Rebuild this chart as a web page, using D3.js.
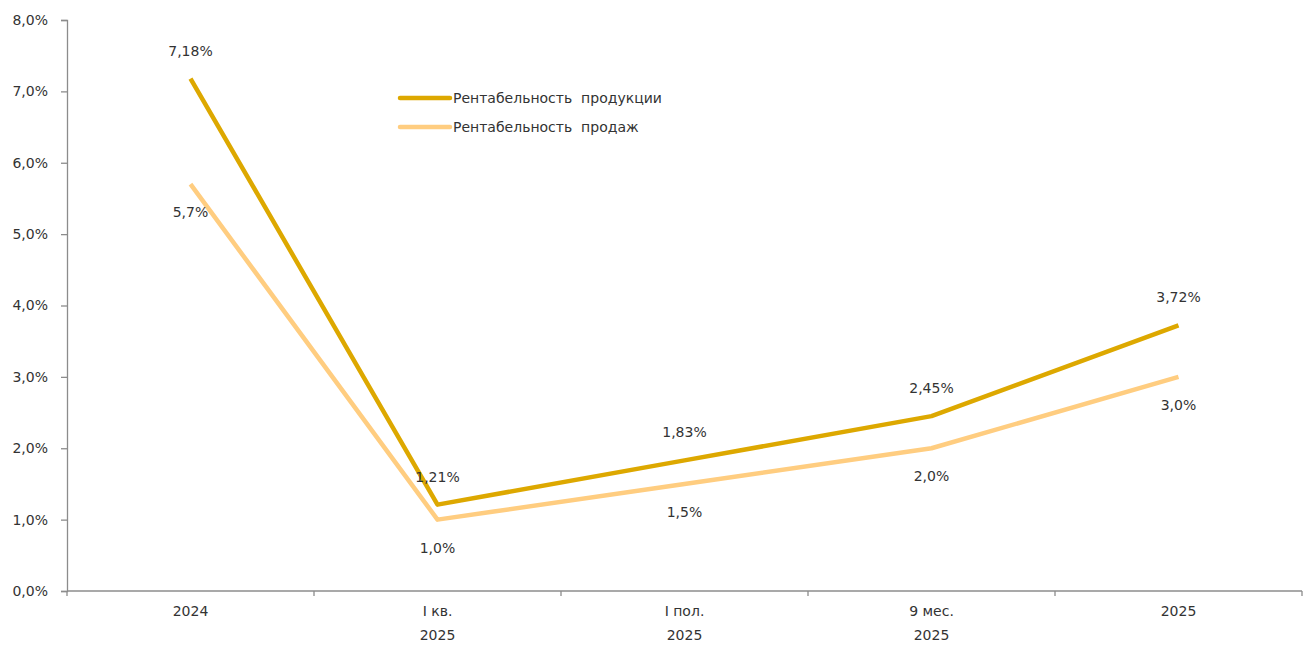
<!DOCTYPE html>
<html><head><meta charset="utf-8">
<script src="https://cdn.jsdelivr.net/npm/d3@7/dist/d3.min.js"></script>
<style>body{margin:0;background:#fff;} text{font-family:"DejaVu Sans",Tahoma,sans-serif;fill:#333;white-space:pre;}</style>
</head><body>
<svg id="c" width="1305" height="646"></svg>
<script>
const categories = [["2024"], ["I кв.", "2025"], ["I пол.", "2025"], ["9 мес.", "2025"], ["2025"]];
const seriesNames = ["Рентабельность  продукции", "Рентабельность  продаж"];
const productValues = [7.18, 1.21, 1.83, 2.45, 3.72];
const salesValues = [5.7, 1.0, 1.5, 2.0, 3.0];
const productLabels = ["7,18%", "1,21%", "1,83%", "2,45%", "3,72%"];
const salesLabels = ["5,7%", "1,0%", "1,5%", "2,0%", "3,0%"];
const yTicks = [0, 1, 2, 3, 4, 5, 6, 7, 8];
const colors = ["#DDA800", "#FFCD80"];

(function() {
const svg = d3.select("#c");
const mLeft = 67, mRight = 1302, mTop = 20, mBottom = 591;
const FS = 14;
const x = d3.scaleBand().domain(d3.range(categories.length)).range([mLeft, mRight]);
const y = d3.scaleLinear().domain([0, 8]).range([mBottom, mTop]);
const fmt = v => v.toFixed(1).replace(".", ",") + "%";

// Y axis
const ya = svg.append("g").attr("transform", `translate(${mLeft},0)`)
  .call(d3.axisLeft(y).tickValues(yTicks).tickFormat(fmt).tickSize(6).tickSizeOuter(6).tickPadding(13));
ya.selectAll("path,line").attr("stroke", "#8c8c8c").attr("stroke-width", 1.3);
ya.selectAll("text").attr("font-size", FS).attr("fill", "#333").style("font-family", "DejaVu Sans");

// X axis
const xa = svg.append("g").attr("transform", `translate(0,${mBottom})`);
xa.append("line").attr("x1", mLeft).attr("x2", mRight).attr("stroke", "#8c8c8c").attr("stroke-width", 1.3);
const bounds = d3.range(categories.length + 1).map(i => i < categories.length ? x(i) : x(i - 1) + x.bandwidth());
xa.selectAll("line.tk").data(bounds).join("line").attr("class", "tk")
  .attr("x1", d => d).attr("x2", d => d).attr("y1", 0).attr("y2", 5)
  .attr("stroke", "#8c8c8c").attr("stroke-width", 1.3);
const xl = xa.selectAll("text.cat").data(categories).join("text").attr("class", "cat")
  .attr("text-anchor", "middle").attr("font-size", FS)
  .attr("x", (d, i) => x(i) + x.bandwidth() / 2);
xl.selectAll("tspan").data(d => d).join("tspan")
  .attr("x", function() { return this.parentNode.getAttribute("x"); })
  .attr("y", (d, i) => 25 + i * 24).text(d => d);

// Lines
const cx = i => x(i) + x.bandwidth() / 2;
const line = d3.line().x((d, i) => cx(i)).y(d => y(d));
svg.append("path").datum(salesValues).attr("d", line).attr("fill", "none")
  .attr("stroke", colors[1]).attr("stroke-width", 4.5).attr("stroke-linejoin", "round");
svg.append("path").datum(productValues).attr("d", line).attr("fill", "none")
  .attr("stroke", colors[0]).attr("stroke-width", 4.5).attr("stroke-linejoin", "round");

// Labels
svg.selectAll("text.pl").data(productValues).join("text").attr("class", "pl")
  .attr("text-anchor", "middle").attr("font-size", FS)
  .attr("x", (d, i) => cx(i)).attr("y", d => y(d) - 23)
  .text((d, i) => productLabels[i]);
svg.selectAll("text.sl").data(salesValues).join("text").attr("class", "sl")
  .attr("text-anchor", "middle").attr("font-size", FS)
  .attr("x", (d, i) => cx(i)).attr("y", d => y(d) + 33)
  .text((d, i) => salesLabels[i]);

// Legend
const lg = svg.append("g").attr("transform", "translate(400,98)");
seriesNames.forEach((n, i) => {
  const g = lg.append("g").attr("transform", `translate(0,${i * 29})`);
  g.append("line").attr("x1", 0).attr("x2", 50).attr("stroke", colors[i]).attr("stroke-width", 4.5).attr("stroke-linecap", "round");
  g.append("text").attr("x", 53).attr("y", 5).attr("font-size", FS).text(n);
});
})();
</script>
</body></html>
